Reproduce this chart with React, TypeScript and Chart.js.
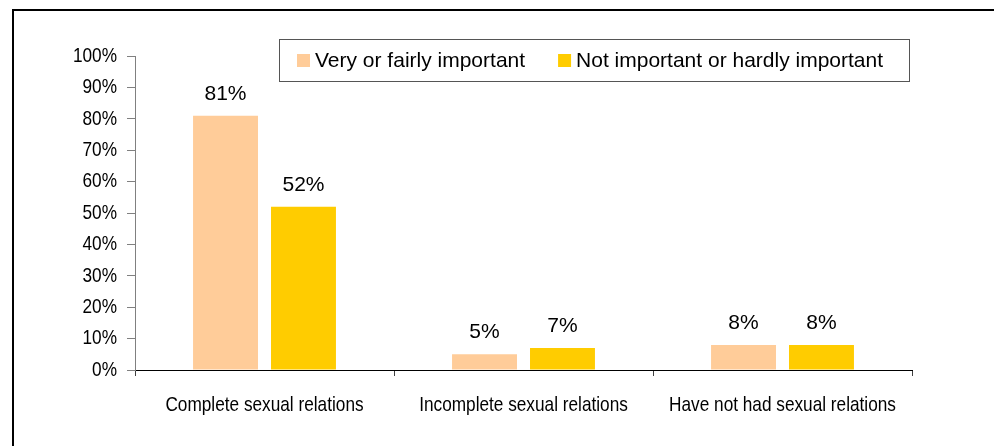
import React, { useEffect, useRef } from "react";
import { Chart, registerables } from "chart.js";

Chart.register(...registerables);

const categories = ["Complete sexual relations", "Incomplete sexual relations", "Have not had sexual relations"];
const seriesNames = ["Very or fairly important", "Not important or hardly important"];
const veryImportant = [81, 5, 8];
const notImportant = [52, 7, 8];
const seriesColors = ["#FFCC99", "#FFCC00"];
const yTicks = [0, 10, 20, 30, 40, 50, 60, 70, 80, 90, 100];

const SANS = "'Liberation Sans', Arial, sans-serif";
const NARROW_SCALE = 0.82;

const framePlugin = {
  id: "frame",
  beforeDraw(chart: any) {
    const ctx = chart.ctx;
    ctx.save();
    ctx.fillStyle = "#ffffff";
    ctx.fillRect(0, 0, chart.width, chart.height);
    ctx.fillStyle = "#000000";
    ctx.fillRect(12, 9, 2, chart.height);
    ctx.fillRect(12, 9, chart.width, 2);
    ctx.restore();
  },
};

// draws axis tick labels in a condensed form (narrow face not installed)
const narrowTicksPlugin = {
  id: "narrowTicks",
  afterDraw(chart: any) {
    const ctx = chart.ctx;
    ctx.save();
    ctx.font = `21px ${SANS}`;
    ctx.fillStyle = "#000000";
    const ys = chart.scales.y;
    ctx.textAlign = "right";
    ctx.textBaseline = "middle";
    ys.ticks.forEach((t: any) => {
      const py = ys.getPixelForValue(t.value);
      ctx.save();
      ctx.translate(ys.right - 18, py);
      ctx.scale(NARROW_SCALE, 1);
      ctx.fillText(`${t.value}%`, 0, 0);
      ctx.restore();
    });
    const xs = chart.scales.x;
    ctx.textAlign = "center";
    ctx.textBaseline = "alphabetic";
    chart.data.labels.forEach((lab: string, i: number) => {
      const px = xs.getPixelForTick(i);
      ctx.save();
      ctx.translate(px, xs.top + 41);
      ctx.scale(NARROW_SCALE, 1);
      ctx.fillText(lab, 0, 0);
      ctx.restore();
    });
    ctx.restore();
  },
};

const labelPlugin = {
  id: "valueLabels",
  afterDatasetsDraw(chart: any) {
    const ctx = chart.ctx;
    ctx.save();
    ctx.font = `21px ${SANS}`;
    ctx.fillStyle = "#000000";
    ctx.textAlign = "center";
    ctx.textBaseline = "alphabetic";
    chart.data.datasets.forEach((ds: any, di: number) => {
      const meta = chart.getDatasetMeta(di);
      meta.data.forEach((bar: any, i: number) => {
        ctx.fillText(`${ds.data[i]}%`, bar.x, bar.y - 16);
      });
    });
    ctx.restore();
  },
};

const legendPlugin = {
  id: "boxLegend",
  afterDraw(chart: any) {
    const ctx = chart.ctx;
    const area = chart.chartArea;
    const boxW = 630;
    const boxH = 42;
    const left = area.right - 3 - boxW;
    const top = area.top - 17;
    ctx.save();
    ctx.fillStyle = "#ffffff";
    ctx.fillRect(left, top, boxW, boxH);
    ctx.strokeStyle = "#555555";
    ctx.lineWidth = 1;
    ctx.strokeRect(left + 0.5, top + 0.5, boxW, boxH);
    ctx.font = `21px ${SANS}`;
    ctx.textBaseline = "alphabetic";
    ctx.textAlign = "left";
    let x = left + 18;
    chart.data.datasets.forEach((ds: any) => {
      ctx.fillStyle = ds.backgroundColor;
      ctx.fillRect(x, top + 15, 13, 13);
      ctx.fillStyle = "#000000";
      ctx.fillText(ds.label, x + 18, top + 28);
      x += 18 + ctx.measureText(ds.label).width + 33;
    });
    ctx.restore();
  },
};

export default function App() {
  const ref = useRef<HTMLCanvasElement>(null);
  useEffect(() => {
    if (!ref.current) return;
    const chart = new Chart(ref.current, {
      type: "bar",
      data: {
        labels: categories,
        datasets: [
          { label: seriesNames[0], data: veryImportant, backgroundColor: seriesColors[0] },
          { label: seriesNames[1], data: notImportant, backgroundColor: seriesColors[1] },
        ],
      },
      options: {
        responsive: false,
        animation: false,
        events: [],
        layout: { padding: { top: 56, right: 82, bottom: 0, left: 0 } },
        datasets: { bar: { categoryPercentage: 0.602, barPercentage: 0.833 } },
        plugins: { legend: { display: false }, tooltip: { enabled: false }, title: { display: false } },
        scales: {
          x: {
            grid: { display: true, drawOnChartArea: false, drawTicks: true, tickLength: 6, color: "#404040", offset: true },
            border: { display: true, color: "#000000", width: 1 },
            ticks: { font: { family: SANS, size: 17 }, color: "rgba(0,0,0,0)", padding: 14, maxRotation: 0, autoSkip: false },
            afterFit(scale: any) {
              scale.height = 76;
            },
          },
          y: {
            min: 0,
            max: 100,
            afterBuildTicks(scale: any) {
              scale.ticks = yTicks.map((v) => ({ value: v }));
            },
            grid: { display: true, drawOnChartArea: false, drawTicks: true, tickLength: 8, color: "#808080" },
            border: { display: true, color: "#808080", width: 1 },
            ticks: {
              font: { family: SANS, size: 17 },
              color: "rgba(0,0,0,0)",
              padding: 10,
              callback: (v: any) => `${v}%`,
            },
            afterFit(scale: any) {
              scale.width = 135;
            },
          },
        },
      },
      plugins: [framePlugin, labelPlugin, legendPlugin, narrowTicksPlugin],
    } as any);
    return () => chart.destroy();
  }, []);
  return (
    <canvas
      ref={ref}
      width={994}
      height={446}
      style={{ position: "fixed", left: 0, top: 0, width: 994, height: 446, display: "block" }}
    />
  );
}
